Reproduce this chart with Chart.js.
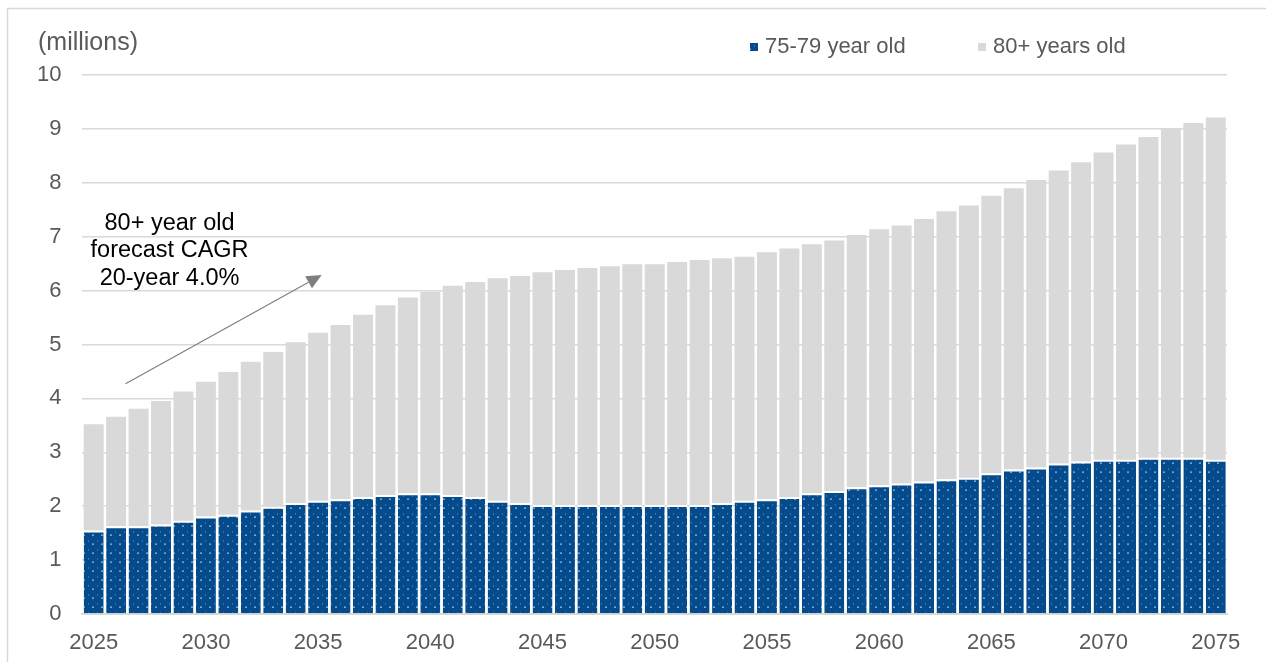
<!DOCTYPE html>
<html>
<head>
<meta charset="utf-8">
<title>Population aged 75+ (millions)</title>
<script src="https://cdn.jsdelivr.net/npm/chart.js@4.4.1/dist/chart.umd.min.js"></script>
<style>
  html, body { margin: 0; padding: 0; background: #ffffff; }
  #wrap { position: relative; width: 1266px; height: 662px; }
  canvas { display: block; }
</style>
</head>
<body>
<div id="wrap"><canvas id="chart" width="1266" height="662"></canvas></div>
<script>
// Years on the horizontal axis
const years = [
  2025, 2026, 2027, 2028, 2029, 2030, 2031, 2032, 2033, 2034,
  2035, 2036, 2037, 2038, 2039, 2040, 2041, 2042, 2043, 2044,
  2045, 2046, 2047, 2048, 2049, 2050, 2051, 2052, 2053, 2054,
  2055, 2056, 2057, 2058, 2059, 2060, 2061, 2062, 2063, 2064,
  2065, 2066, 2067, 2068, 2069, 2070, 2071, 2072, 2073, 2074, 2075
];

// Population aged 75-79 (millions)
const age75to79 = [
  1.55, 1.63, 1.63, 1.66, 1.73, 1.81, 1.84, 1.92, 1.99, 2.06,
  2.10, 2.13, 2.17, 2.21, 2.24, 2.24, 2.21, 2.17, 2.10, 2.06,
  2.02, 2.02, 2.02, 2.02, 2.02, 2.02, 2.02, 2.02, 2.06, 2.10,
  2.13, 2.17, 2.24, 2.28, 2.35, 2.39, 2.42, 2.46, 2.50, 2.53,
  2.61, 2.68, 2.72, 2.79, 2.83, 2.86, 2.86, 2.90, 2.90, 2.90, 2.86
];

// Population aged 80 and over (millions)
const age80plus = [
  1.97, 2.03, 2.18, 2.29, 2.40, 2.50, 2.65, 2.76, 2.87, 2.98,
  3.12, 3.23, 3.38, 3.52, 3.63, 3.74, 3.88, 3.99, 4.13, 4.21,
  4.32, 4.36, 4.40, 4.43, 4.47, 4.47, 4.51, 4.55, 4.54, 4.53,
  4.58, 4.61, 4.62, 4.65, 4.68, 4.75, 4.79, 4.87, 4.97, 5.05,
  5.15, 5.22, 5.33, 5.44, 5.55, 5.70, 5.85, 5.95, 6.10, 6.21, 6.35
];

// Y axis tick values
const yTicks = [0, 1, 2, 3, 4, 5, 6, 7, 8, 9, 10];

const seriesNames = ['75-79 year old', '80+ years old'];
const unitLabel = '(millions)';
const noteLines = ['80+ year old', 'forecast CAGR', '20-year 4.0%'];

const FONT = '"Liberation Sans", Arial, sans-serif';
const AXIS_TEXT = '#595959';
const GRID = '#d9d9d9';
const BLUE = '#054b8c';
const GREY = '#d9d9d9';

// Dotted fill for the 75-79 bars
function makeDotPattern() {
  const tile = document.createElement('canvas');
  tile.width = 9; tile.height = 9;
  const t = tile.getContext('2d');
  t.fillStyle = BLUE;
  t.fillRect(0, 0, 9, 9);
  t.fillStyle = '#64a6dc';
  t.fillRect(2, 4, 2, 1);
  t.fillStyle = 'rgba(110,170,220,0.6)';
  t.fillRect(2, 3, 2, 1);
  t.fillStyle = 'rgba(80,140,200,0.6)';
  t.fillRect(7, 0, 1, 2);
  return document.getElementById('chart').getContext('2d').createPattern(tile, 'repeat');
}
const dotFill = makeDotPattern();

// Frame, unit label, legend and the growth note
const decorations = {
  id: 'decorations',
  beforeDraw(chart) {
    const ctx = chart.ctx;
    ctx.save();
    ctx.fillStyle = '#ffffff';
    ctx.fillRect(0, 0, chart.width, chart.height);
    ctx.strokeStyle = '#d9d9d9';
    ctx.lineWidth = 1.5;
    ctx.strokeRect(7.5, 8.5, chart.width + 20, chart.height + 20);
    ctx.restore();
  },
  afterDraw(chart) {
    const ctx = chart.ctx;
    const xs = chart.scales.x;
    const ys = chart.scales.y;
    ctx.save();
    ctx.textBaseline = 'middle';
    ctx.textAlign = 'left';

    // unit label
    ctx.font = '25px ' + FONT;
    ctx.fillStyle = AXIS_TEXT;
    ctx.fillText(unitLabel, 38, 43);

    // legend
    ctx.font = '22px ' + FONT;
    const items = [
      { x: 750, color: dotFill, text: seriesNames[0] },
      { x: 978, color: GREY, text: seriesNames[1] }
    ];
    items.forEach(it => {
      ctx.fillStyle = it.color;
      ctx.fillRect(it.x, 43, 8, 8);
      ctx.fillStyle = AXIS_TEXT;
      ctx.fillText(it.text, it.x + 15, 47);
    });

    // growth arrow
    const x0 = xs.getPixelForValue(1.42), y0 = ys.getPixelForValue(4.27);
    const x1 = xs.getPixelForValue(10.16), y1 = ys.getPixelForValue(6.29);
    const ang = Math.atan2(y1 - y0, x1 - x0);
    const headLen = 15, headHalf = 7;
    const bx = x1 - headLen * Math.cos(ang), by = y1 - headLen * Math.sin(ang);
    ctx.strokeStyle = '#7f7f7f';
    ctx.lineWidth = 1.2;
    ctx.beginPath();
    ctx.moveTo(x0, y0);
    ctx.lineTo(bx, by);
    ctx.stroke();
    ctx.fillStyle = '#7f7f7f';
    ctx.beginPath();
    ctx.moveTo(x1, y1);
    ctx.lineTo(bx + headHalf * Math.sin(ang), by - headHalf * Math.cos(ang));
    ctx.lineTo(bx - headHalf * Math.sin(ang), by + headHalf * Math.cos(ang));
    ctx.closePath();
    ctx.fill();

    // note text
    ctx.font = '23.5px ' + FONT;
    ctx.fillStyle = '#000000';
    ctx.textAlign = 'center';
    const nx = xs.getPixelForValue(3.38);
    const noteY = [7.25, 6.74, 6.23];
    noteLines.forEach((line, i) => {
      ctx.fillText(line, nx, ys.getPixelForValue(noteY[i]));
    });
    ctx.restore();
  }
};

new Chart(document.getElementById('chart'), {
  type: 'bar',
  data: {
    labels: years.map(String),
    datasets: [
      {
        label: seriesNames[0],
        data: age75to79,
        backgroundColor: dotFill,
        borderColor: '#ffffff',
        borderWidth: { top: 2, left: 0, right: 0, bottom: 0 },
        borderSkipped: false,
        stack: 'pop'
      },
      {
        label: seriesNames[1],
        data: age80plus,
        backgroundColor: GREY,
        borderWidth: 0,
        stack: 'pop'
      }
    ]
  },
  options: {
    responsive: false,
    devicePixelRatio: 1,
    animation: false,
    datasets: { bar: { categoryPercentage: 1.0, barPercentage: 0.89 } },
    layout: { padding: { top: 75, left: 16, right: 39, bottom: 0 } },
    plugins: {
      legend: { display: false },
      tooltip: { enabled: false }
    },
    scales: {
      x: {
        stacked: true,
        grid: { display: false, drawTicks: false },
        border: { display: true, color: GRID, width: 2 },
        afterFit(scale) { scale.height = 48; },
        ticks: {
          autoSkip: false,
          maxRotation: 0,
          padding: 16,
          color: AXIS_TEXT,
          font: { family: FONT, size: 22 },
          callback: function (value) {
            const yr = years[value];
            return yr % 5 === 0 ? String(yr) : '';
          }
        }
      },
      y: {
        stacked: true,
        min: yTicks[0],
        max: yTicks[yTicks.length - 1],
        afterBuildTicks(scale) { scale.ticks = yTicks.map(v => ({ value: v })); },
        grid: { color: GRID, lineWidth: 1.5, drawTicks: false },
        border: { display: false },
        ticks: {
          padding: 21,
          color: AXIS_TEXT,
          font: { family: FONT, size: 22 }
        }
      }
    }
  },
  plugins: [decorations]
});
</script>
</body>
</html>
